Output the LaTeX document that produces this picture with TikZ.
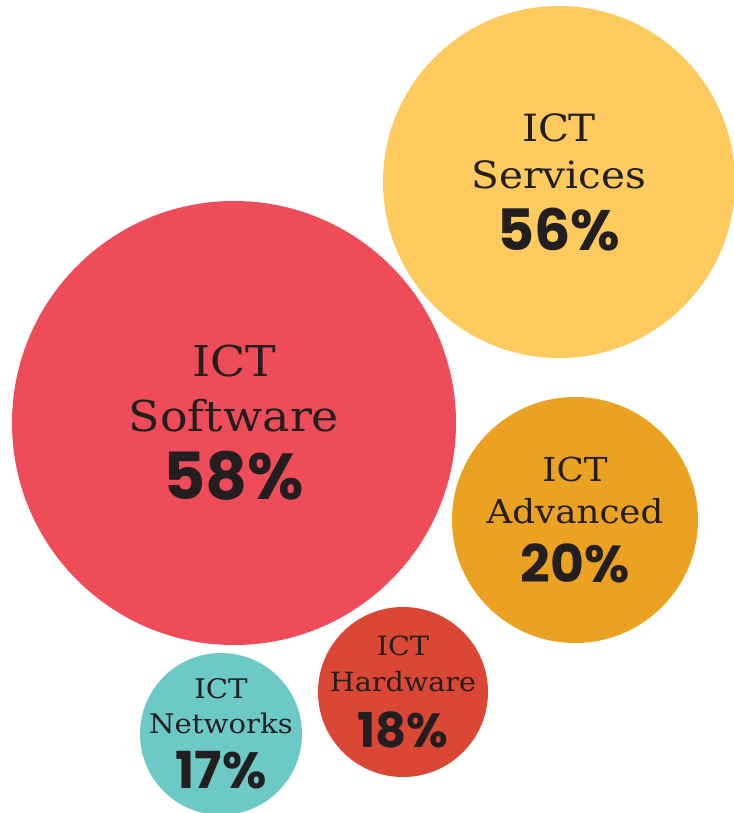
\documentclass[tikz,border=0pt]{standalone}
\usepackage{fontspec}
\setmainfont{DejaVu Serif}[FakeStretch=1.08]
\newfontfamily\pctfont{Poppins}
\usetikzlibrary{positioning}
\definecolor{ict_red}{HTML}{EF4C59}
\definecolor{ict_yellow}{HTML}{FDCA5E}
\definecolor{ict_orange}{HTML}{EBA121}
\definecolor{ict_brick}{HTML}{DA4734}
\definecolor{ict_teal}{HTML}{6DC9C6}
\definecolor{ict_text}{HTML}{231F20}

\begin{document}
\begin{tikzpicture}[x=1pt, y=-1pt,
            bubble/.style={circle, draw=none, inner sep=0pt},
            bubbletext/.style={align=center, inner sep=0pt, text=ict_text}
        ]
            \useasboundingbox (0,0) rectangle (733,813);

            % Bubbles
            \node[bubble, fill=ict_red, minimum size=444pt] (software) at (234,423) {};
            \node[bubble, fill=ict_yellow, minimum size=352pt] (services) at (559,182) {};
            \node[bubble, fill=ict_orange, minimum size=246pt] (advanced) at (575,520) {};
            \node[bubble, fill=ict_brick, minimum size=170pt] (hardware) at (403,692) {};
            \node[bubble, fill=ict_teal, minimum size=162pt] (networks) at (221,734) {};

            % Labels
            \node[bubbletext, font=\fontsize{42.5}{55}\selectfont] (softwaretext) at (software.center)
                {ICT\\Software\\[13pt]{\pctfont\bfseries\fontsize{65}{65}\selectfont 58\%}};
            \node[bubbletext, font=\fontsize{37.5}{47}\selectfont] (servicestext) at (services.center)
                {ICT\\Services\\[15pt]{\pctfont\bfseries\fontsize{57}{57}\selectfont 56\%}};
            \node[bubbletext, font=\fontsize{33}{42}\selectfont] (advancedtext) at (advanced.center)
                {ICT\\Advanced\\[17pt]{\pctfont\bfseries\fontsize{52}{52}\selectfont 20\%}};
            \node[bubbletext, font=\fontsize{26.5}{36}\selectfont] (hardwaretext) at (hardware.center)
                {ICT\\Hardware\\[18pt]{\pctfont\bfseries\fontsize{48}{48}\selectfont 18\%}};
            \node[bubbletext, font=\fontsize{27}{35}\selectfont] (networkstext) at (networks.center)
                {ICT\\Networks\\[16pt]{\pctfont\bfseries\fontsize{51}{51}\selectfont 17\%}};
        \end{tikzpicture}
\end{document}
